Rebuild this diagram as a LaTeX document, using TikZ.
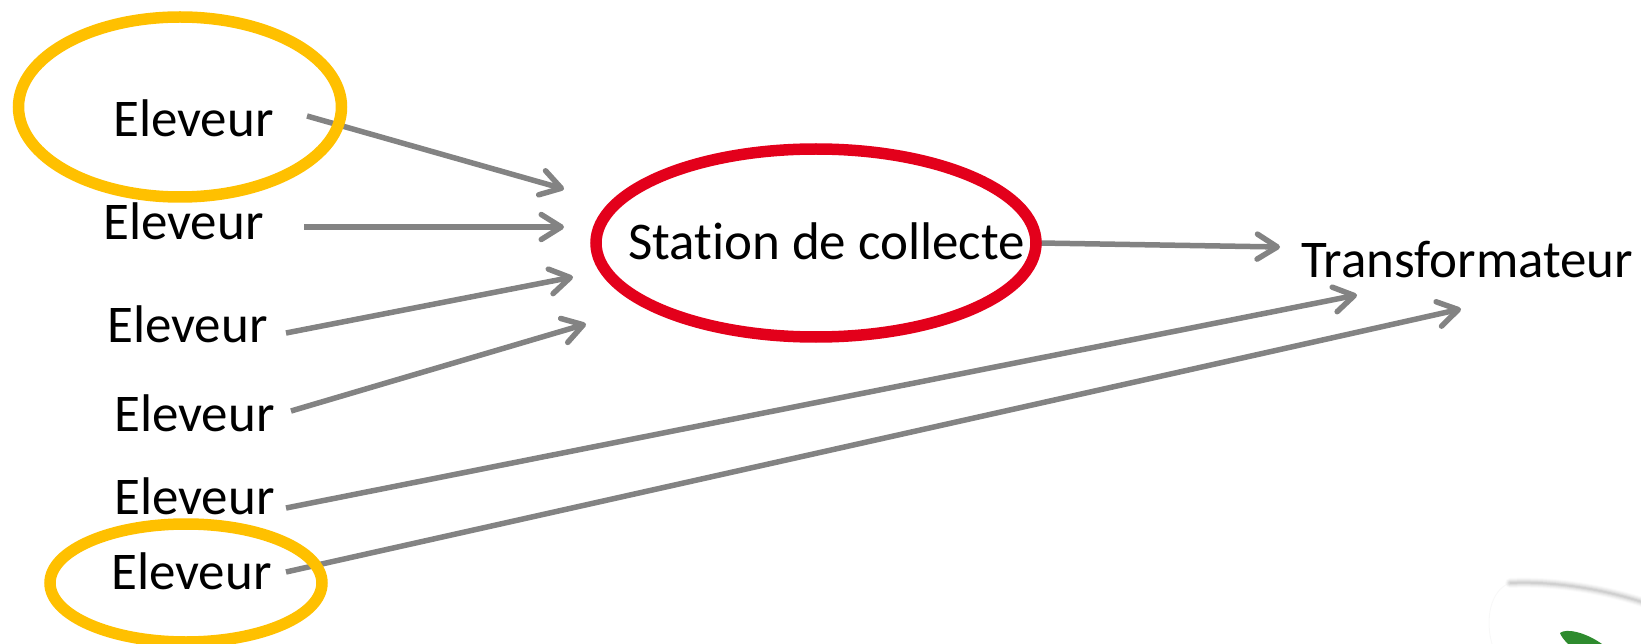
\documentclass[tikz,border=0pt]{standalone}
\usepackage{fontspec}
\setmainfont{Carlito}[Ligatures=NoCommon]
\usetikzlibrary{shapes.geometric,arrows.meta}
\pgfdeclarelayer{under}
\pgfsetlayers{under,main}
\definecolor{ringyellow}{HTML}{FFC000}
\definecolor{ringred}{HTML}{E3001B}
\definecolor{linkgrey}{HTML}{838383}
\definecolor{logogreen}{HTML}{2E8B2E}
\tikzset{
  ring/.style={ellipse,draw=#1,line width=11.5pt,inner sep=0pt,fill=none},
  lbl/.style={anchor=base west,inner sep=0pt,text=black,font=\fontsize{53}{60}\selectfont},
  conn/.style={draw=linkgrey,line width=5.5pt,-{Straight Barb[length=20pt,width=25pt,line width=5.5pt,round]}},
}
\begin{document}
\begin{tikzpicture}[x=1pt,y=-1pt]
\useasboundingbox (0,0) rectangle (1641,644);
\clip (0,0) rectangle (1641,644);
% rings
\node[ring=ringyellow,minimum width=323pt,minimum height=180pt] (r1) at (180,107) {};
\node[ring=ringyellow,minimum width=272pt,minimum height=118pt] (r2) at (186,583) {};
\node[ring=ringred,minimum width=440pt,minimum height=188pt] (st) at (816,243) {};
% labels
\node[lbl] (e1) at (113,137) {Eleveur};
\node[lbl] (e2) at (103,240) {Eleveur};
\node[lbl] (e3) at (107,342) {Eleveur};
\node[lbl] (e4) at (114,431) {Eleveur};
\node[lbl] (e5) at (114,514) {Eleveur};
\node[lbl] (e6) at (111,589) {Eleveur};
\node[lbl] (stl) at (628,260) {Station de collecte};
\node[lbl] (tr) at (1301,278) {Transformateur};
% connector ends
\coordinate (s1) at (307,116);  \coordinate (t1) at (564,189);
\coordinate (s2) at (304,227);  \coordinate (t2) at (564,227);
\coordinate (s3) at (286,333);  \coordinate (t3) at (573,277);
\coordinate (s4) at (291,411);  \coordinate (t4) at (586,324);
\coordinate (s5) at (286,508);  \coordinate (t5) at (1357,295);
\coordinate (s6) at (286,572);  \coordinate (t6) at (1461,309);
\coordinate (t7) at (1280,247);
\begin{pgfonlayer}{under}
\draw[conn] (s1) -- (t1);
\draw[conn] (s2) -- (t2);
\draw[conn] (s3) -- (t3);
\draw[conn] (s4) -- (t4);
\draw[conn] (s5) -- (t5);
\draw[conn] (s6) -- (t6);
\draw[conn] (st.east) ++(-2,0) -- (t7);
% logo fragment, bottom right
\foreach \w/\o in {10/0.02,8/0.03,6/0.04,4/0.05,2/0.06}{
  \draw[black,opacity=\o,line width=\w pt,line cap=round]
    (1510,583) .. controls (1550,581) and (1600,588) .. (1645,603);
}
\draw[black!10,line width=1pt,opacity=0.25] (1510,583) .. controls (1490,590) and (1485,620) .. (1492,644);
\fill[logogreen] (1560,633) .. controls (1566,628) and (1585,632) .. (1602,644) -- (1568,644) .. controls (1564,640) and (1561,636) .. (1560,633) -- cycle;
\end{pgfonlayer}
\end{tikzpicture}
\end{document}
